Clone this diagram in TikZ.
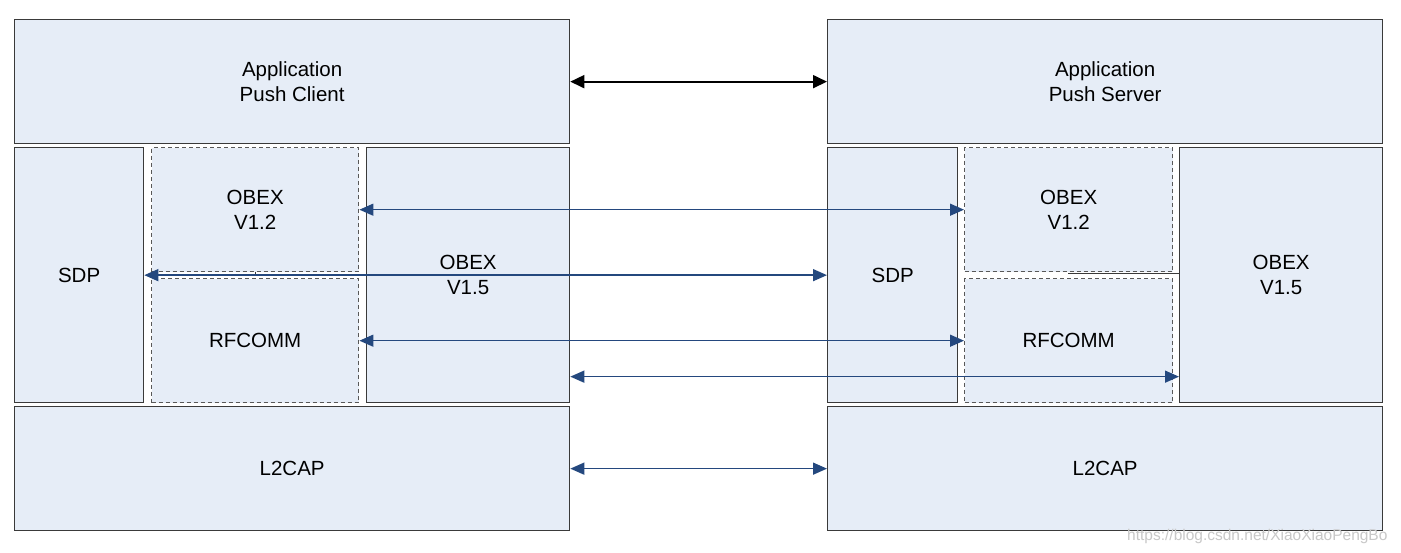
\documentclass[tikz,border=0pt]{standalone}
\usepackage{fontspec}
\setmainfont{Liberation Sans}
\usetikzlibrary{arrows.meta}
\definecolor{boxfill}{HTML}{E6EDF7}
\definecolor{boxline}{HTML}{3A3A3A}
\definecolor{arrblue}{HTML}{24487E}
\definecolor{wmgray}{HTML}{C8C8C8}
\tikzset{
  box/.style={draw=boxline, fill=boxfill, line width=1.3pt, anchor=north west, inner sep=0pt,
    align=center, font=\fontsize{20.5}{25}\selectfont},
  dbox/.style={box, draw=boxline!85, line width=1.4pt, dash pattern=on 4pt off 3pt},
  barr/.style={line width=1.8pt, black, {Triangle[length=14pt,width=13pt]}-{Triangle[length=14pt,width=13pt]}},
  arr/.style={line width=1.4pt, arrblue, {Triangle[length=14pt,width=12pt]}-{Triangle[length=14pt,width=12pt]}},
}
\begin{document}
\begin{tikzpicture}[x=1pt,y=-1pt]
\useasboundingbox[fill=white] (0,0) rectangle (1401,553);
% left stack
\node[box, minimum width=555, minimum height=124] (appL) at (14,19) {Application\\Push Client};
\node[box, minimum width=129, minimum height=255] (sdpL) at (14,147) {SDP};
\node[dbox, minimum width=207, minimum height=124] (o12L) at (151,147) {OBEX\\V1.2};
\node[dbox, minimum width=207, minimum height=124] (rfL) at (151,278) {RFCOMM};
\node[box, minimum width=203, minimum height=255] (o15L) at (366,147) {OBEX\\V1.5};
\node[box, minimum width=555, minimum height=124] (l2L) at (14,406) {L2CAP};
% right stack
\node[box, minimum width=555, minimum height=124] (appR) at (827,19) {Application\\Push Server};
\node[box, minimum width=130, minimum height=255] (sdpR) at (827,147) {SDP};
\node[dbox, minimum width=208, minimum height=124] (o12R) at (964,147) {OBEX\\V1.2};
\node[dbox, minimum width=208, minimum height=124] (rfR) at (964,278) {RFCOMM};
\node[box, minimum width=203, minimum height=255] (o15R) at (1179,147) {OBEX\\V1.5};
\node[box, minimum width=555, minimum height=124] (l2R) at (827,406) {L2CAP};
% small residual lines
\coordinate (kA) at (1068,274);
\draw[boxline, line width=1pt] (kA) -- (kA -| o15R.west);
\coordinate (kB) at (255,272);
\draw[boxline, line width=1pt] (kB) -- ++(0,3);
% connectors
\draw[barr] (appL.east) -- (appR.west);
\draw[arr] (o12L.east) -- (o12R.west);
\draw[arr] (sdpL.east) -- (sdpR.west);
\draw[arr] (rfL.east) -- (rfR.west);
\draw[arr] ([yshift=-101.5pt]o15L.east) -- ([yshift=-101.5pt]o15R.west);
\draw[arr] (l2L.east) -- (l2R.west);
% watermark
\node[text=wmgray, font=\fontsize{15.5}{17}\selectfont, anchor=east] (wm) at (1391,536) {https://blog.csdn.net/XiaoXiaoPengBo};
\end{tikzpicture}
\end{document}
